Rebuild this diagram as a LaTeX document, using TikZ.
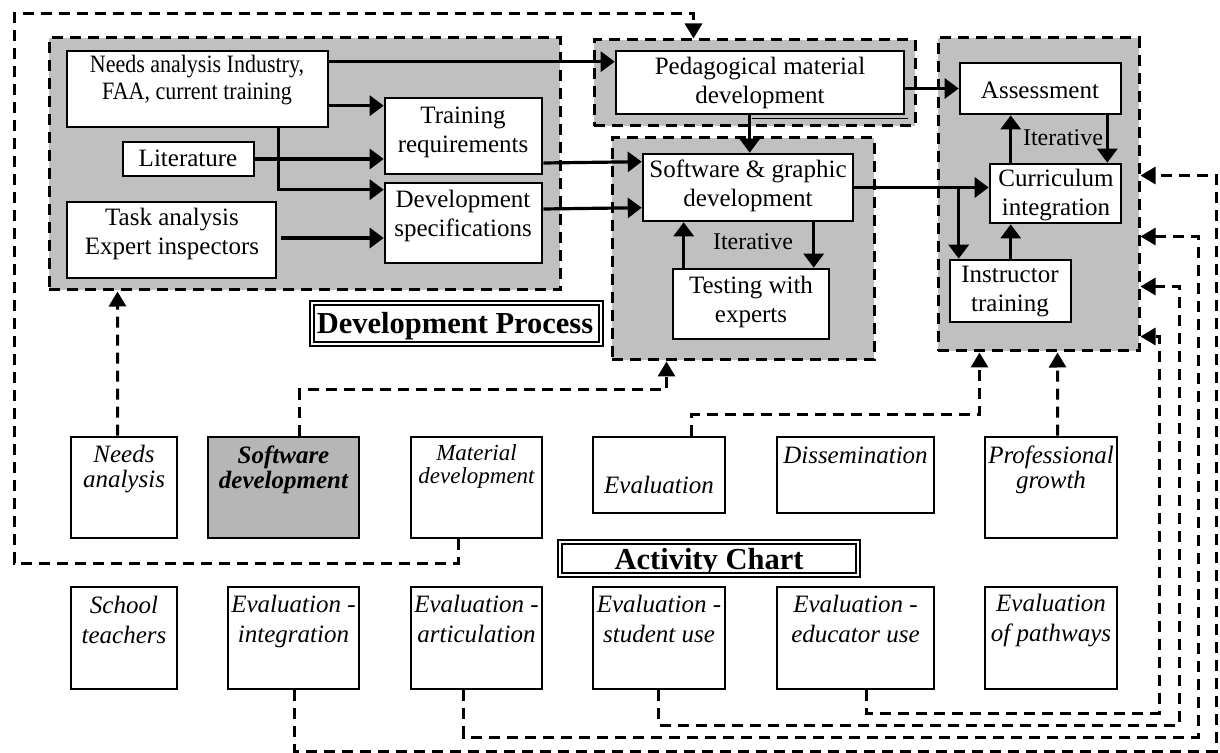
\documentclass[tikz,border=0pt]{standalone}
\usepackage{fontspec}
\setmainfont{Liberation Serif}
\newfontfamily\condserif[FakeStretch=0.88]{Liberation Serif}
\usetikzlibrary{arrows.meta,fit,calc}
\definecolor{grp}{RGB}{192,192,192}
\definecolor{sdgray}{RGB}{182,182,182}
\begin{document}
\begin{tikzpicture}[x=0.5pt,y=-0.5pt,
 box/.style={draw, line width=1.3pt, fill=white, inner sep=0pt},
 abox/.style={draw, line width=1.3pt, inner sep=0pt},
 grpbox/.style={draw, fill=grp, line width=1.5pt, dash pattern=on 5.5pt off 3.5pt, inner sep=0pt},
 arr/.style={line width=1.6pt, -{Triangle[length=7pt,width=10pt]}},
 darr/.style={line width=1.5pt, dash pattern=on 5.5pt off 3.5pt, -{Triangle[length=7.5pt,width=8.5pt]}},
 txt/.style={align=center, font=\fontsize{12.5}{14.5}\selectfont, inner sep=0pt},
 itr/.style={align=center, font=\fontsize{12}{14}\selectfont, inner sep=0pt},
 itx/.style={align=center, font=\fontsize{12.5}{12.5}\selectfont\itshape, inner sep=0pt},
 itxb/.style={align=center, font=\fontsize{12.5}{12.5}\selectfont\bfseries\itshape, inner sep=0pt},
 mtx/.style={align=center, font=\fontsize{11.5}{11.5}\selectfont\itshape, inner sep=0pt},
 itxx/.style={align=center, font=\fontsize{12.5}{15}\selectfont\itshape, inner sep=0pt},
 ttl/.style={draw, double, double distance=1.3pt, line width=0.8pt, inner sep=0pt},
 ttltext/.style={font=\fontsize{15.25}{18}\selectfont\bfseries, inner sep=0pt}
]
\useasboundingbox (0,0) rectangle (1220,753);

% groups
\node[grpbox, fit={(49,38)(560,290)}] (dgrp) {};
\node[grpbox, fit={(594,40)(915,126)}] (pgrp) {};
\node[grpbox, fit={(612,138)(874,360)}] (sgrp) {};
\node[grpbox, fit={(938,38)(1139,351)}] (rgrp) {};

% process boxes
\node[box, fit={(67,51)(328,127)}] (needs) {};
\node[box, fit={(385,98)(542,174)}] (train) {};
\node[box, fit={(123,142)(254,176)}] (lit) {};
\node[box, fit={(385,183)(542,263)}] (spec) {};
\node[box, fit={(67,202)(276,278)}] (task) {};
\node[box, fit={(616,51)(904,114)}] (pedag) {};
\draw[line width=0.7pt] (752,118.5) -- (908,118.5);
\node[box, fit={(960,63)(1121,114)}] (assess) {};
\node[box, fit={(643,154)(853,221)}] (soft) {};
\node[box, fit={(990,164)(1121,223)}] (curr) {};
\node[box, fit={(950,260)(1071,322)}] (instr) {};
\node[box, fit={(673,269)(829,339)}] (test) {};

% process texts
\node[align=center, font=\condserif\fontsize{12.5}{13.5}\selectfont, inner sep=0pt] (t-needs) at (197,80) {Needs analysis Industry,\\FAA, current training};
\node[txt] (t-train) at (463,132) {Training\\requirements};
\node[txt] (t-lit) at (188,158) {Literature};
\node[txt] (t-spec) at (463,216) {Development\\specifications};
\node[txt] (t-task) at (172,234) {Task analysis\\Expert inspectors};
\node[txt] (t-pedag) at (760,83) {Pedagogical material\\development};
\node[txt] (t-assess) at (1040,90) {Assessment};
\node[txt] (t-soft) at (748,186) {Software \& graphic\\development};
\node[txt] (t-curr) at (1056,195) {Curriculum\\integration};
\node[txt] (t-instr) at (1010,292) {Instructor\\training};
\node[txt] (t-test) at (751,302) {Testing with\\experts};
\node[itr] (it1) at (753,242) {Iterative};
\node[itr] (it2) at (1063,138) {Iterative};

% titles
\node[ttl, fit={(312,303)(601,344)}] (dptitle) {};
\node[ttltext] (t-dp) at (455,326) {Development Process};
\node[ttl, fit={(560,542)(858,575)}] (actitle) {};
\begin{scope}
\clip (562,544) rectangle (856,572);
\node[ttltext, anchor=base] (t-ac) at (709,569) {Activity Chart};
\end{scope}

% activity boxes
\node[abox, fit={(71,437)(177,538)}] (na) {};
\node[abox, fill=sdgray, fit={(208,437)(359,538)}] (sd) {};
\node[abox, fit={(411,437)(542,538)}] (md) {};
\node[abox, fit={(593,437)(725,513)}] (ev) {};
\node[abox, fit={(777,437)(934,513)}] (ds) {};
\node[abox, fit={(985,437)(1117,538)}] (pg) {};
\node[abox, fit={(71,587)(177,689)}] (st) {};
\node[abox, fit={(228,587)(359,689)}] (ei) {};
\node[abox, fit={(411,587)(542,689)}] (ea) {};
\node[abox, fit={(593,587)(725,689)}] (es) {};
\node[abox, fit={(777,587)(934,689)}] (ee) {};
\node[abox, fit={(985,587)(1117,689)}] (ep) {};

\node[itx] (t-na) at (124,469.5) {Needs\\analysis};
\node[itxb] (t-sd) at (283.5,469.5) {Software\\development};
\node[mtx] (t-md) at (476.5,466) {Material\\development};
\node[itx] (t-ev) at (659,485) {Evaluation};
\node[itx] (t-ds) at (855.5,455) {Dissemination};
\node[itx] (t-pg) at (1051,470) {Professional\\growth};
\node[itxx] (t-st) at (124,620) {School\\teachers};
\node[itxx] (t-ei) at (293.5,621) {Evaluation -\\integration};
\node[itxx] (t-ea) at (476.5,619) {Evaluation -\\articulation};
\node[itxx] (t-es) at (659,619) {Evaluation -\\student use};
\node[itxx] (t-ee) at (855.5,619) {Evaluation -\\educator use};
\node[itxx] (t-ep) at (1051,621) {Evaluation\\of pathways};

% solid connectors
\draw[arr] ($(needs.north east)+(0,12)$) -- ($(pedag.north west)+(0,12)$);
\draw[arr] ($(needs.north east)+(0,56)$) -- ($(train.north west)+(0,9)$);
\draw[arr] (lit.east) -- (lit.east -| train.west);
\draw[arr] ($(needs.south west)+(213,0)$) |- ($(spec.north west)+(0,8)$);
\draw[arr] ($(task.east)+(4,-2)$) -- ($(spec.west)+(0,15)$);
\draw[arr] ($(train.east)+(0,27)$) -- ($(soft.north west)+(0,9)$);
\draw[arr] ($(spec.east)+(0,-14)$) -- ($(soft.north west)+(0,55)$);
\draw[arr] ($(pedag.south west)+(135,0)$) -- ($(soft.north west)+(108,0)$);
\draw[arr] (pedag.east |- assess.west) -- (assess.west);
\draw[arr] (soft.east) -- (soft.east -| curr.west);
\coordinate (brk) at ($(instr.north west)+(10,0)$);
\draw[arr] (brk |- soft.east) -- (brk);
\draw[arr] ($(assess.south east)+(-15,0)$) -- ($(curr.north east)+(-15,0)$);
\draw[arr] ($(curr.north west)+(22,0)$) -- ($(assess.south west)+(52,0)$);
\draw[arr] ($(instr.north west)+(62,0)$) -- ($(curr.south west)+(22,0)$);
\draw[arr] ($(soft.south west)+(172,0)$) -- ($(test.north west)+(142,0)$);
\draw[arr] ($(test.north west)+(12,0)$) -- ($(soft.south west)+(42,0)$);

% dashed connectors
\coordinate (loopBL) at (14,563);
\coordinate (loopTL) at (14,14);
\draw[darr] ($(md.south west)+(49,0)$) |- (loopBL) -- (loopTL) -| ($(pgrp.north west)+(101,0)$);
\draw[darr] ($(na.north west)+(48,0)$) -- ($(dgrp.south west)+(70,0)$);
\coordinate (c1) at ($(sgrp.south west)+(56,28)$);
\draw[darr] ($(sd.north west)+(93,0)$) |- (c1) -- ($(sgrp.south west)+(56,0)$);
\coordinate (c2) at ($(rgrp.south west)+(43,62)$);
\draw[darr] ($(ev.north west)+(100,0)$) |- (c2) -- ($(rgrp.south west)+(43,0)$);
\draw[darr] ($(pg.north west)+(74,0)$) -- ($(rgrp.south west)+(121,0)$);
\coordinate (r1) at (1216,751);
\coordinate (r2) at (1198,737);
\coordinate (r3) at (1179,725);
\coordinate (r4) at (1159,713);
\draw[darr] ($(ei.south west)+(68,0)$) |- (r1) |- ($(rgrp.north east)+(0,139)$);
\draw[darr] ($(ea.south west)+(54,0)$) |- (r2) |- ($(rgrp.north east)+(0,200)$);
\draw[darr] ($(es.south west)+(67,0)$) |- (r3) |- ($(rgrp.north east)+(0,250)$);
\draw[darr] ($(ee.south west)+(91,0)$) |- (r4) |- ($(rgrp.north east)+(0,300)$);
\end{tikzpicture}
\end{document}
